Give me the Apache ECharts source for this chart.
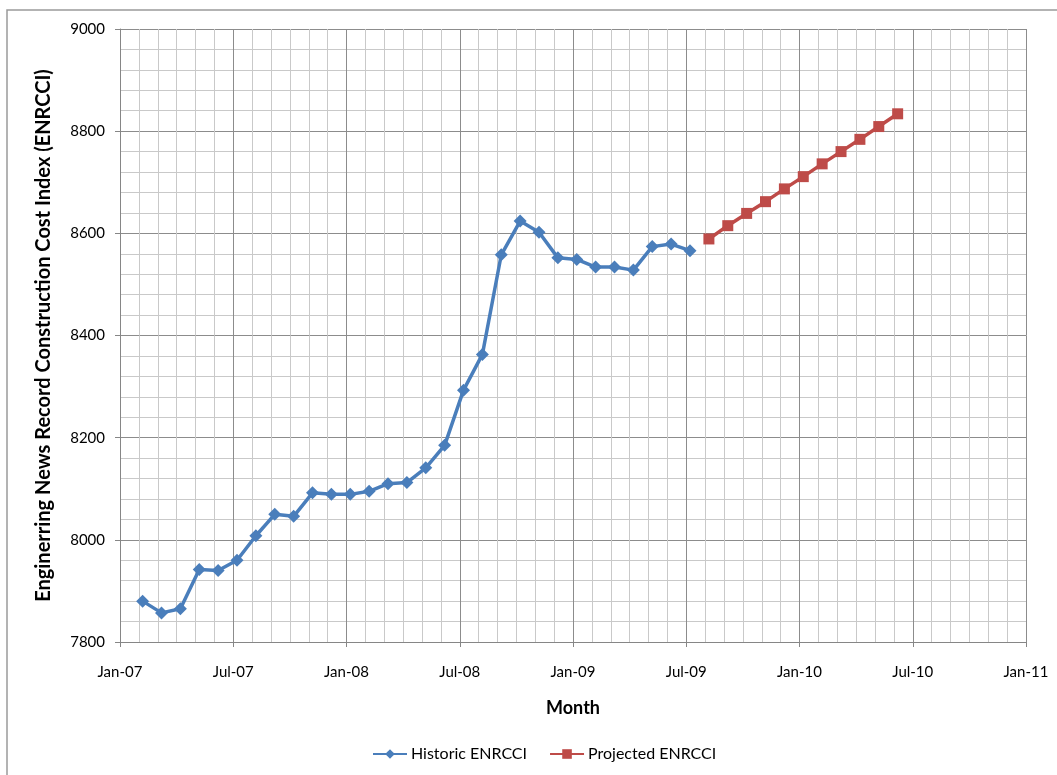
<!DOCTYPE html>
<html>
<head>
<meta charset="utf-8">
<script src="https://cdn.jsdelivr.net/npm/echarts@6/dist/echarts.min.js"></script>
<style>
html,body{margin:0;padding:0;background:#fff;}
#chart{width:1057px;height:775px;}
</style>
</head>
<body>
<div id="chart"></div>
<script>
// Month labels of each point (date ~7th of each month), months counted from Jan-07
const historicMonths = ['Feb-07','Mar-07','Apr-07','May-07','Jun-07','Jul-07','Aug-07','Sep-07','Oct-07','Nov-07','Dec-07',
  'Jan-08','Feb-08','Mar-08','Apr-08','May-08','Jun-08','Jul-08','Aug-08','Sep-08','Oct-08','Nov-08','Dec-08',
  'Jan-09','Feb-09','Mar-09','Apr-09','May-09','Jun-09','Jul-09'];
const historicValues = [7880,7857,7865,7942,7940,7960,8008,8050,8046,8092,8089,8089,8095,8110,8112,8141,8185,8293,8363,8558,8624,8602,8552,8549,8534,8534,8528,8574,8579,8566];
const projectedMonths = ['Aug-09','Sep-09','Oct-09','Nov-09','Dec-09','Jan-10','Feb-10','Mar-10','Apr-10','May-10','Jun-10'];
const projectedValues = [8589,8615,8639,8662,8687,8711,8736,8760,8784,8809,8834];
const xTickLabels = ['Jan-07','Jul-07','Jan-08','Jul-08','Jan-09','Jul-09','Jan-10','Jul-10','Jan-11'];
const dayOfMonth = 7;

const monNames = ['Jan','Feb','Mar','Apr','May','Jun','Jul','Aug','Sep','Oct','Nov','Dec'];
function monthPos(label){
  const [m, y] = label.split('-');
  return (parseInt(y,10) - 7) * 12 + monNames.indexOf(m) + (dayOfMonth - 1) / 30;
}
const histData = historicMonths.map((m,i)=>[monthPos(m), historicValues[i]]);
const projData = projectedMonths.map((m,i)=>[monthPos(m), projectedValues[i]]);

const chart = echarts.init(document.getElementById('chart'), null, {renderer:'canvas'});
const FONT = 'Lato, "Open Sans", sans-serif';
chart.setOption({
  animation:false,
  backgroundColor:'#fff',
  graphic:[{type:'rect', shape:{x:7,y:10,width:1070,height:800}, style:{fill:'none', stroke:'#9a9a9a', lineWidth:1.5}, z:-10}],
  grid:{left:120, right:31, top:29, bottom:133},
  legend:{
    bottom:8, left:367, itemWidth:34, itemHeight:12, itemGap:22,
    textStyle:{fontFamily:FONT, fontSize:16, color:'#000', padding:[0,0,0,-1]},
    data:['Historic ENRCCI','Projected ENRCCI']
  },
  xAxis:{
    type:'value', min:0, max:48, interval:6,
    name:'Month', nameLocation:'middle', nameGap:57,
    nameTextStyle:{fontFamily:FONT, fontSize:18, fontWeight:'bold', color:'#000'},
    axisLine:{show:true, lineStyle:{color:'#868686', width:1}},
    axisTick:{show:true, length:5, lineStyle:{color:'#868686'}},
    axisLabel:{fontFamily:FONT, fontSize:15, color:'#000', margin:23,
      formatter:(v)=>xTickLabels[Math.round(v/6)] || ''},
    splitLine:{show:true, lineStyle:{color:'#8c8c8c', width:1}},
    minorTick:{show:false, splitNumber:6},
    minorSplitLine:{show:true, lineStyle:{color:'#c9c9c9', width:1}}
  },
  yAxis:{
    type:'value', min:7800, max:9000, interval:200,
    name:'Enginerring News Record Construction Cost Index (ENRCCI)',
    nameLocation:'middle', nameGap:66, nameRotate:90,
    nameTextStyle:{fontFamily:FONT, fontSize:20, fontWeight:'bold', color:'#000'},
    axisLine:{show:true, lineStyle:{color:'#868686', width:1}},
    axisTick:{show:true, length:5, lineStyle:{color:'#868686'}},
    axisLabel:{fontFamily:FONT, fontSize:15, color:'#000', margin:15,
      formatter:(v)=>String(v)},
    splitLine:{show:true, lineStyle:{color:'#8c8c8c', width:1}},
    minorTick:{show:false, splitNumber:5},
    minorSplitLine:{show:true, lineStyle:{color:'#c9c9c9', width:1}}
  },
  series:[
    {name:'Historic ENRCCI', type:'line', data:histData, color:'#4a7ebb',
     symbol:'diamond', symbolSize:13, lineStyle:{width:3.5, color:'#4a7ebb'},
     itemStyle:{color:'#4a7ebb'}},
    {name:'Projected ENRCCI', type:'line', data:projData, color:'#be4b48',
     symbol:'rect', symbolSize:11, lineStyle:{width:3.5, color:'#be4b48'},
     itemStyle:{color:'#be4b48'}}
  ]
});
</script>
</body>
</html>
